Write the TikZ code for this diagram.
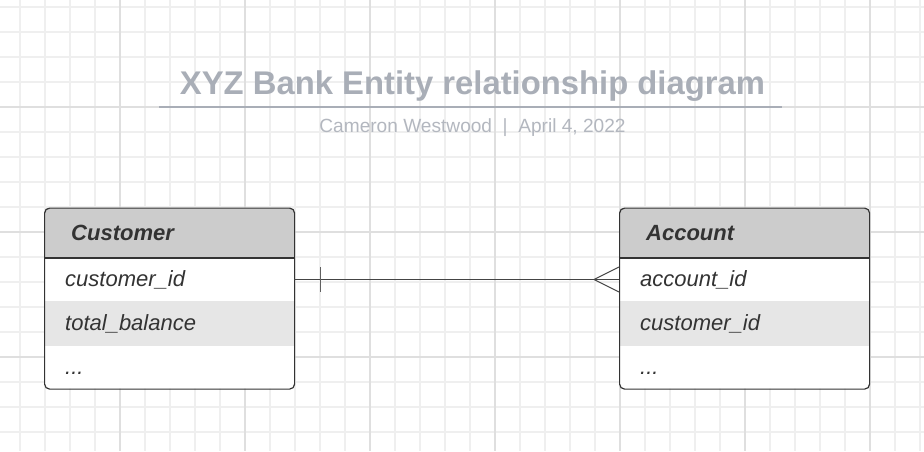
\documentclass[tikz,border=0pt]{standalone}
\usepackage{fontspec}
\setmainfont{Liberation Sans}
\usetikzlibrary{calc}
\definecolor{gminor}{HTML}{EFEFEF}
\definecolor{gmajor}{HTML}{DFDFDF}
\definecolor{ttl}{HTML}{A9AEB7}
\definecolor{sub}{HTML}{B3B7BF}
\definecolor{ink}{HTML}{333333}
\definecolor{hdr}{HTML}{CCCCCC}
\definecolor{alt}{HTML}{E6E6E6}
\definecolor{conn}{HTML}{444444}
\tikzset{
  minorline/.style={gminor, line width=1.2pt},
  majorline/.style={gmajor, line width=1.4pt},
  titletext/.style={text=ttl, font=\fontsize{32.8}{36}\selectfont\bfseries, inner sep=0pt, anchor=base},
  subtext/.style={text=sub, font=\fontsize{19.1}{22}\selectfont, inner sep=0pt, anchor=base},
  tblframe/.style={draw=ink, rounded corners=5pt, line width=1.2pt, minimum width=250pt, minimum height=181pt, anchor=north west, inner sep=0pt},
  headbox/.style={fill=hdr, minimum width=250pt, minimum height=50pt, text width=196pt, inner xsep=27pt, inner ysep=0pt, anchor=north west, text=ink, font=\fontsize{22}{26}\selectfont\bfseries\itshape, text height=15.7pt, text depth=0pt},
  rowbox/.style={minimum width=250pt, text width=208pt, inner xsep=21pt, inner ysep=0pt, anchor=north west, text=ink, font=\fontsize{22}{26}\selectfont\itshape, text height=15pt, text depth=1pt},
  connline/.style={conn, line width=1pt},
  tickline/.style={conn!85!white, line width=1.6pt}
}
\begin{document}
\begin{tikzpicture}[x=1pt,y=-1pt]
\useasboundingbox (0,0) rectangle (924,451);
\fill[white] (0,0) rectangle (924,451);
% grid
\foreach \x in {20,45,...,920} \draw[minorline] (\x,0) -- (\x,451);
\foreach \y in {7,32,...,450} \draw[minorline] (0,\y) -- (924,\y);
\foreach \x in {120,245,...,870} \draw[majorline] (\x,0) -- (\x,451);
\foreach \y in {107,232,357} \draw[majorline] (0,\y) -- (924,\y);
% title
\node[titletext] (title) at (472.5,94) {XYZ Bank Entity relationship diagram};
\draw[ttl, line width=2pt] (159,107) -- (782,107);
\node[subtext] (subtitle) at (472.5,132) {Cameron Westwood~~|~~April 4, 2022};
% Customer table
\fill[white, rounded corners=5pt] (44,207.5) rectangle (294,388.5);
\begin{scope}
\clip[rounded corners=5pt] (44,207.5) rectangle (294,388.5);
\node[headbox] (custhead) at (44,207.5) {Customer};
\node[rowbox, minimum height=43.5pt] (cid) at (44,257.5) {customer\_id};
\node[rowbox, minimum height=44.5pt, fill=alt] (cbal) at (44,301) {total\_balance};
\node[rowbox, minimum height=43pt] (cmore) at (44,345.5) {...};
\end{scope}
\draw[ink, line width=1.2pt] (custhead.south west) -- (custhead.south east);
\node[tblframe] (cust) at (44,207.5) {};
% Account table
\fill[white, rounded corners=5pt] (619,207.5) rectangle (869,388.5);
\begin{scope}
\clip[rounded corners=5pt] (619,207.5) rectangle (869,388.5);
\node[headbox] (acchead) at (619,207.5) {Account};
\node[rowbox, minimum height=43.5pt] (aid) at (619,257.5) {account\_id};
\node[rowbox, minimum height=44.5pt, fill=alt] (acid) at (619,301) {customer\_id};
\node[rowbox, minimum height=43pt] (amore) at (619,345.5) {...};
\end{scope}
\draw[ink, line width=1.2pt] (acchead.south west) -- (acchead.south east);
\node[tblframe] (acc) at (619,207.5) {};
% relationship
\draw[connline] (cid.east) -- (aid.west);
\draw[tickline] ($(cid.east)+(26pt,-12.5pt)$) -- ($(cid.east)+(26pt,12.5pt)$);
\draw[connline] ($(aid.west)+(0,12.5pt)$) -- ($(aid.west)+(-25pt,0)$) -- ($(aid.west)+(0,-12.5pt)$);
\end{tikzpicture}
\end{document}
